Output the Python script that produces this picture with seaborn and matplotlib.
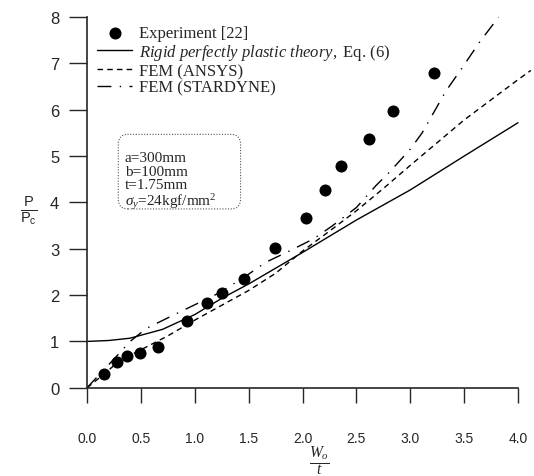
import numpy as np
import pandas as pd
import matplotlib
matplotlib.use("Agg")
import matplotlib.pyplot as plt
from matplotlib.patches import FancyBboxPatch
import seaborn as sns

# ---- data ----
exp_x = [0.16, 0.28, 0.37, 0.49, 0.66, 0.93, 1.11, 1.25, 1.46, 1.74,
         2.03, 2.21, 2.36, 2.62, 2.84, 3.22]
exp_y = [0.29, 0.55, 0.69, 0.75, 0.88, 1.44, 1.82, 2.05, 2.35, 3.01,
         3.66, 4.27, 4.78, 5.38, 5.98, 6.79]

rigid_x = [0.0, 0.2, 0.4, 0.7, 1.0, 1.25, 1.5, 1.75, 2.0, 2.25, 2.5, 3.0, 3.5, 4.0]
rigid_y = [1.0, 1.02, 1.07, 1.26, 1.58, 1.93, 2.24, 2.58, 2.92, 3.27, 3.62, 4.27, 5.0, 5.72]

ansys_x = [0.0, 0.15, 0.3, 0.5, 0.75, 1.0, 1.25, 1.5, 1.75, 2.0, 2.25, 2.5, 2.75, 3.0, 3.5, 4.0, 4.12]
ansys_y = [0.0, 0.28, 0.58, 0.82, 1.12, 1.46, 1.78, 2.1, 2.47, 2.95, 3.38, 3.82, 4.3, 4.8, 5.78, 6.65, 6.85]

stard_x = [0.0, 0.1, 0.25, 0.4, 0.55, 0.83, 1.23, 1.48, 1.66, 1.85, 2.1, 2.28, 2.5,
           2.68, 2.81, 3.0, 3.11, 3.33, 3.48, 3.64, 3.82]
stard_y = [0.0, 0.25, 0.62, 1.0, 1.28, 1.6, 2.05, 2.42, 2.71, 2.92, 3.21, 3.5, 3.89,
           4.36, 4.66, 5.15, 5.5, 6.4, 6.9, 7.45, 8.0]

x_ticks = [0.0, 0.5, 1.0, 1.5, 2.0, 2.5, 3.0, 3.5, 4.0]
y_ticks = [0, 1, 2, 3, 4, 5, 6, 7, 8]

params_text = "a=300mm\nb=100mm\nt=1.75mm\n$\\sigma_y$=24kgf/mm$^2$"

sns.set_style("ticks")
plt.rcParams["font.family"] = ["Liberation Serif", "DejaVu Serif"]
plt.rcParams["mathtext.fontset"] = "custom"
plt.rcParams["mathtext.rm"] = "Liberation Serif"
plt.rcParams["mathtext.it"] = "Liberation Serif:italic"
plt.rcParams["mathtext.sf"] = "Liberation Sans"

fig = plt.figure(figsize=(5.34, 4.77), dpi=100)
ax = fig.add_axes([0.163, 0.185, 0.807, 0.777])

sns.scatterplot(x=exp_x, y=exp_y, ax=ax, color="black", s=75, edgecolor="black",
                linewidth=0, label="Experiment [22]", zorder=3)
sns.lineplot(x=rigid_x, y=rigid_y, ax=ax, color="black", lw=1.0,
             label=r"$\mathit{Rigid\ perfectly\ plastic\ theory,}$ Eq. (6)")
sns.lineplot(x=ansys_x, y=ansys_y, ax=ax, color="black", lw=1.0,
             label="FEM (ANSYS)")
sns.lineplot(x=stard_x, y=stard_y, ax=ax, color="black", lw=1.0,
             label="FEM (STARDYNE)")
ax.lines[1].set_dashes([4, 3])
ax.lines[2].set_dashes([10, 6, 1, 6])
for ln in ax.lines:
    ln.set_clip_on(False)

ax.set_xlim(0, 4.0)
ax.set_ylim(0, 8)
ax.set_xticks(x_ticks)
ax.set_xticklabels([f"{v:.1f}" for v in x_ticks], fontfamily="Liberation Sans", fontsize=10)
ax.set_yticks(y_ticks)
ax.set_yticklabels([str(v) for v in y_ticks], fontfamily="Liberation Sans", fontsize=12)
ax.tick_params(axis="y", length=13, width=1, pad=7, direction="out")
ax.tick_params(axis="x", length=11, width=1, pad=20, direction="out")
sns.despine(ax=ax)
for sp in ["left", "bottom"]:
    ax.spines[sp].set_linewidth(1.2)

ax.set_xlabel(r"$\frac{W_o}{t}$", fontsize=16)
ax.xaxis.set_label_coords(0.54, -0.15)
ax.set_ylabel(r"$\mathsf{\frac{P}{P_c}}$", fontsize=15, rotation=0, va="center")
ax.yaxis.set_label_coords(-0.135, 0.48)

leg = ax.legend(loc="upper left", bbox_to_anchor=(0.0, 1.005), frameon=False,
                fontsize=12, handlelength=2.1, handletextpad=0.4,
                labelspacing=0.05, borderaxespad=0.2)

# parameter box
box = FancyBboxPatch((0.29, 3.86), 1.135, 1.61,
                     boxstyle="round,pad=0,rounding_size=0.09",
                     mutation_aspect=2.33, fc="white", ec="#555555",
                     ls=(0, (1, 1.5)), lw=0.8, zorder=2)
ax.add_patch(box)
ax.text(0.35, 5.1, params_text, fontsize=11, va="top", ha="left",
        linespacing=1.02, zorder=3)

fig.savefig("out.png", dpi=100)
